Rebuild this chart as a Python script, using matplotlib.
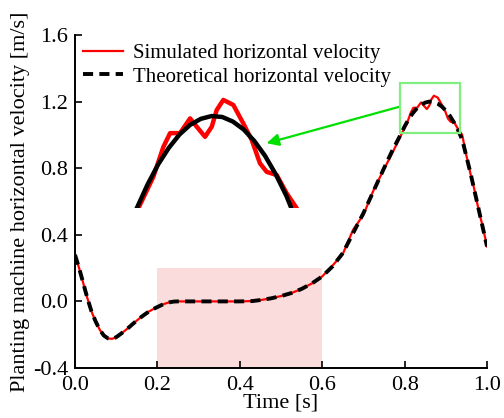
import numpy as np
import matplotlib.pyplot as plt
from matplotlib.patches import Rectangle

plt.rcParams['font.family'] = ['Liberation Serif', 'DejaVu Serif']
plt.rcParams['font.size'] = 16
plt.rcParams['axes.unicode_minus'] = False

# theoretical horizontal velocity (m/s) over time (s)
theo_t = [0.00, 0.01, 0.02, 0.03, 0.04, 0.05, 0.06, 0.07, 0.08, 0.09,
          0.10, 0.11, 0.12, 0.13, 0.14, 0.15, 0.16, 0.17, 0.18, 0.19,
          0.20, 0.21, 0.22, 0.23, 0.24, 0.25, 0.30, 0.35, 0.40, 0.43,
          0.45, 0.475, 0.50, 0.525, 0.55, 0.575, 0.60, 0.625, 0.65, 0.675,
          0.70, 0.725, 0.75, 0.77, 0.79, 0.80, 0.81, 0.82, 0.83, 0.84,
          0.85, 0.86, 0.87, 0.88, 0.89, 0.90, 0.91, 0.92, 0.93, 0.94,
          0.95, 0.96, 0.97, 0.98, 0.99, 1.00]
theo_v = [0.28, 0.20, 0.11, 0.02, -0.06, -0.12, -0.17, -0.205, -0.222, -0.225,
          -0.215, -0.197, -0.178, -0.158, -0.136, -0.115, -0.095, -0.077, -0.060, -0.046,
          -0.034, -0.022, -0.012, -0.005, -0.001, 0.0, 0.0, 0.0, 0.0, 0.002,
          0.008, 0.018, 0.032, 0.050, 0.075, 0.108, 0.15, 0.21, 0.29, 0.41,
          0.53, 0.665, 0.80, 0.905, 1.0, 1.051, 1.095, 1.131, 1.160, 1.181,
          1.194, 1.200, 1.198, 1.188, 1.171, 1.146, 1.114, 1.074, 1.027, 0.97,
          0.87, 0.77, 0.66, 0.55, 0.44, 0.33]

# simulated horizontal velocity
sim_t = [0.00, 0.01, 0.02, 0.03, 0.04, 0.05, 0.06, 0.07, 0.08, 0.09,
         0.10, 0.11, 0.12, 0.13, 0.14, 0.15, 0.16, 0.17, 0.18, 0.19,
         0.20, 0.21, 0.22, 0.23, 0.24, 0.25, 0.30, 0.35, 0.40, 0.43,
         0.45, 0.475, 0.50, 0.525, 0.55, 0.575, 0.60, 0.625, 0.65, 0.675,
         0.70, 0.725, 0.75, 0.77, 0.7915, 0.8055, 0.8149, 0.8212, 0.8305, 0.8399,
         0.8461, 0.8539, 0.8602, 0.8648, 0.871, 0.8804, 0.8897, 0.8976, 0.9053, 0.9116,
         0.921, 0.9303, 0.9397, 0.95, 0.96, 0.97, 0.98, 0.99, 1.00]
sim_v = [0.28, 0.20, 0.11, 0.02, -0.06, -0.12, -0.17, -0.205, -0.222, -0.225,
         -0.215, -0.197, -0.178, -0.158, -0.136, -0.115, -0.095, -0.077, -0.060, -0.046,
         -0.034, -0.022, -0.012, -0.005, -0.001, 0.0, 0.0, 0.0, 0.0, 0.002,
         0.008, 0.018, 0.032, 0.050, 0.075, 0.108, 0.15, 0.215, 0.285, 0.43,
         0.52, 0.67, 0.795, 0.89, 1.0, 1.068, 1.133, 1.163, 1.163, 1.195,
         1.177, 1.155, 1.177, 1.213, 1.235, 1.224, 1.184, 1.148, 1.0975, 1.079,
         1.072, 1.0325, 1.0, 0.875, 0.765, 0.665, 0.545, 0.445, 0.33]

x_ticks = [0.0, 0.2, 0.4, 0.6, 0.8, 1.0]
y_ticks = [-0.4, 0.0, 0.4, 0.8, 1.2, 1.6]

fig = plt.figure(figsize=(5.04, 4.18), dpi=100)
ax = fig.add_axes([0.1488, 0.1196, 0.8175, 0.7967])

# shaded region
ax.fill_between([0.2, 0.6], -0.4, 0.2, color='#fbdcdc', lw=0, zorder=0)

ax.plot(sim_t, sim_v, color='red', lw=1.6, solid_joinstyle='round',
        label='Simulated horizontal velocity')
ax.plot(theo_t, theo_v, color='black', lw=2.8, linestyle=(0, (2.6, 1.6)),
        label='Theoretical horizontal velocity')

ax.set_xlim(0, 1.0)
ax.set_ylim(-0.4, 1.6)
ax.set_xticks(x_ticks)
ax.set_yticks(y_ticks)
ax.tick_params(direction='in', length=5, width=1.2)
ax.tick_params(axis='x', pad=6)
ax.tick_params(axis='y', pad=5)
for s in ['top', 'right']:
    ax.spines[s].set_visible(False)
for s in ['left', 'bottom']:
    ax.spines[s].set_linewidth(1.4)
ax.set_xlabel('Time [s]', labelpad=-1)
ax.set_ylabel('Planting machine horizontal velocity [m/s]')
ax.yaxis.set_label_coords(-0.108, 0.5)

ax.legend(loc='upper left', bbox_to_anchor=(0.0, 1.0), borderaxespad=0,
          frameon=False, fontsize=15, handlelength=1.9, handletextpad=0.5,
          labelspacing=0.2)

# zoom box and arrow
ax.add_patch(Rectangle((0.789, 1.013), 0.145, 0.30, fill=False,
                       edgecolor='#80ef80', lw=1.6, zorder=5))
ax.annotate('', xy=(0.465, 0.95), xytext=(0.789, 1.17),
            arrowprops=dict(arrowstyle='-|>', color='#00e000', lw=1.6,
                            mutation_scale=18, shrinkA=0, shrinkB=0))

# inset showing the peak
axin = fig.add_axes([0.2607, 0.5017, 0.3393, 0.2758])
axin.plot(sim_t, sim_v, color='red', lw=3.2, solid_joinstyle='round')
axin.plot(theo_t, theo_v, color='black', lw=3.2, solid_joinstyle='round')
axin.set_xlim(0.785, 0.945)
axin.set_ylim(1.0, 1.25)
axin.axis('off')

fig.savefig('out.png', dpi=100)
